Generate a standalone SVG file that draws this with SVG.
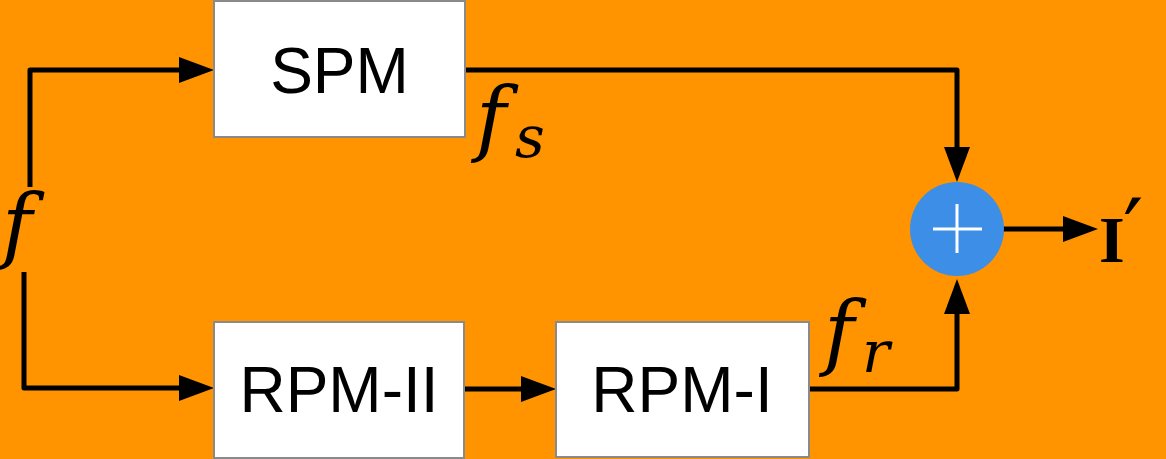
<svg xmlns="http://www.w3.org/2000/svg" width="1166" height="459" viewBox="0 0 1166 459">
  <defs>
    <marker id="ah" markerUnits="userSpaceOnUse" markerWidth="36" markerHeight="26" refX="1" refY="13" orient="auto" viewBox="0 0 36 26">
      <path d="M0,0 L35,13 L0,26 Z" fill="#000"/>
    </marker>
    <style>
      .box { fill: #ffffff; stroke: #8a8a8a; stroke-width: 2; }
      .lbl { font-family: "Liberation Sans", Arial, sans-serif; font-size: 64px; fill: #000; text-anchor: middle; }
      .math { font-family: "DejaVu Serif", "Liberation Serif", serif; font-style: italic; fill: #000; }
      .wire { fill: none; stroke: #000; stroke-width: 5; stroke-linejoin: round; }
    </style>
  </defs>
  <rect x="0" y="0" width="1166" height="459" fill="#FF9300"/>

  <g id="connectors">
    <path class="wire" d="M30,187 L30,70 L180,70" marker-end="url(#ah)"/>
    <path class="wire" d="M24,272 L24,388 L180,388" marker-end="url(#ah)"/>
    <path class="wire" d="M464,70 L957,70 L957,148" marker-end="url(#ah)"/>
    <path class="wire" d="M464,389 L522,389" marker-end="url(#ah)"/>
    <path class="wire" d="M808,389 L957,389 L957,313" marker-end="url(#ah)"/>
    <path class="wire" d="M1003,229 L1064,229" marker-end="url(#ah)"/>
  </g>

  <g id="spm">
    <rect class="box" x="214" y="1" width="251" height="136"/>
    <text class="lbl" x="339.5" y="93">SPM</text>
  </g>
  <g id="rpm2">
    <rect class="box" x="214" y="322" width="250" height="136"/>
    <text class="lbl" x="339" y="412">RPM-II</text>
  </g>
  <g id="rpm1">
    <rect class="box" x="556" y="322" width="253" height="135"/>
    <text class="lbl" x="682" y="412">RPM-I</text>
  </g>
  <g id="sum">
    <circle cx="957" cy="229" r="47" fill="#3D8EE6"/>
    <path d="M933,229 L982,229 M957,204 L957,253" stroke="#ffffff" stroke-width="3" fill="none"/>
  </g>

  <g id="labels">
    <text class="math" x="2" y="253" font-size="82">f</text>
    <text class="math" x="476" y="146" font-size="82">f</text>
    <text class="math" x="515" y="157" font-size="58">s</text>
    <text class="math" x="824" y="360" font-size="82">f</text>
    <text class="math" x="862" y="372" font-size="58">r</text>
    <text x="1099" y="262" font-family="'Liberation Serif', 'Times New Roman', serif" font-weight="bold" font-size="66" fill="#000">I</text>
    <text x="1123" y="263" font-family="'DejaVu Serif', serif" font-size="90" fill="#000">′</text>
  </g>
</svg>
